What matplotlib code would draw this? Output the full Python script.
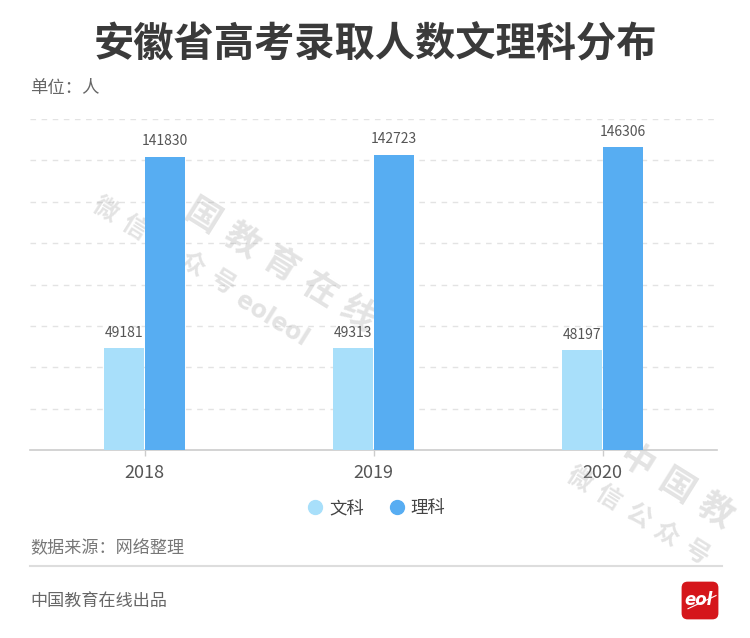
import matplotlib
matplotlib.use("Agg")
import matplotlib.pyplot as plt
from matplotlib.lines import Line2D
from matplotlib.patches import FancyBboxPatch
import numpy as np

plt.rcParams['font.family'] = ['Noto Sans CJK SC', 'DejaVu Sans']

years = ['2018', '2019', '2020']
series_names = ['文科', '理科']
wenke = [49181, 49313, 48197]
like = [141830, 142723, 146306]
colors = ['#A8DFFA', '#57ADF2']

W, H = 750, 638
fig = plt.figure(figsize=(W / 100, H / 100), dpi=100)
fig.patch.set_facecolor('white')

def fx(px):
    return px / W

def fy(py):
    return 1 - py / H

ax = fig.add_axes([fx(30), fy(450), fx(717) - fx(30), fy(119) - fy(450)])
x = np.arange(len(years))
bw = 0.173
off = 0.0885
b1 = ax.bar(x - off, wenke, bw, color=colors[0], zorder=3)
b2 = ax.bar(x + off, like, bw, color=colors[1], zorder=3)

for bars, vals in ((b1, wenke), (b2, like)):
    for r, v in zip(bars, vals):
        ax.annotate(f'{v}', (r.get_x() + r.get_width() / 2, v),
                    xytext=(0, 6), textcoords='offset points',
                    ha='center', va='bottom', fontsize=10, color='#555555')

ax.set_xlim(-0.5, 2.5)
ax.set_ylim(0, 160000)
ax.set_yticks(np.arange(20000, 160001, 20000))
ax.yaxis.grid(True, linestyle=(0, (4, 4)), color='#e3e3e3', linewidth=1, zorder=0)
ax.tick_params(axis='y', length=0, labelleft=False)
ax.set_xticks(x)
ax.set_xticklabels(years, fontsize=13, color='#555555')
ax.tick_params(axis='x', length=4, width=1, color='#cccccc', pad=6)
for s in ['top', 'right', 'left']:
    ax.spines[s].set_visible(False)
ax.spines['bottom'].set_color('#cccccc')
ax.spines['bottom'].set_linewidth(1.2)

handles = [Line2D([], [], marker='o', linestyle='none', markersize=10,
                  markerfacecolor=c, markeredgecolor=c) for c in colors]
fig.legend(handles, series_names, loc='center', bbox_to_anchor=(fx(376), fy(508)),
           ncol=2, frameon=False, fontsize=12.5, handletextpad=0.3,
           columnspacing=1.4, labelcolor='#444444', handlelength=1.0)

fig.text(0.5, fy(45), '安徽省高考录取人数文理科分布', ha='center', va='center',
         fontsize=29, fontweight='bold', color='#3a3a3a')
fig.text(fx(30), fy(88), '单位：人', ha='left', va='center', fontsize=12.5, color='#666666')
fig.text(fx(30), fy(548), '数据来源：网络整理', ha='left', va='center', fontsize=12.3, color='#777777')
fig.add_artist(Line2D([fx(30), fx(722)], [fy(566), fy(566)], color='#dddddd',
                      linewidth=1.5, transform=fig.transFigure))
fig.text(fx(30), fy(601), '中国教育在线出品', ha='left', va='center', fontsize=12.3, color='#666666')

# logo
lax = fig.add_axes([fx(680), fy(621), fx(720) - fx(680), fy(580) - fy(621)])
lax.set_xlim(0, 1)
lax.set_ylim(0, 1)
lax.axis('off')
lax.add_patch(FancyBboxPatch((0.04, 0.04), 0.92, 0.92, boxstyle='round,pad=0,rounding_size=0.15',
                             facecolor='#D5161B', edgecolor='none'))
lax.text(0.47, 0.52, 'eol', color='white', fontsize=12, fontweight='bold', style='italic',
         ha='center', va='center', family='DejaVu Sans')
lax.plot([0.2, 0.9], [0.3, 0.62], color='white', linewidth=0.8)

# watermarks (letter-spaced, rotated), drawn beneath the bars
wm_color = '#b0b0b0'
wm_alpha = 0.35
ang = 32.0
ca, sa = np.cos(np.radians(ang)), np.sin(np.radians(ang))
line1 = '中国教育在线'
line2 = '微信公众号'
for k, (dx, dy) in enumerate(((0, 0), (474, 270))):
    sx, sy = 163 + dx, 192 + dy
    for i, ch in enumerate(line1):
        cx, cy = sx + i * 46 * ca, sy + i * 46 * sa
        if cx + 20 > W or cy + 20 > H:
            continue
        ax.text(fx(cx), fy(cy), ch, rotation=-ang, ha='center', va='center',
                fontsize=25, fontweight='bold', color=wm_color, alpha=wm_alpha,
                transform=fig.transFigure, zorder=2)
    sx, sy = 105 + dx, 210 + dy
    for i, ch in enumerate(line2):
        cx, cy = sx + i * 34.5 * ca, sy + i * 34.5 * sa
        if cx + 15 > W or cy + 15 > H:
            continue
        ax.text(fx(cx), fy(cy), ch, rotation=-ang, ha='center', va='center',
                fontsize=18, fontweight='bold', color=wm_color, alpha=wm_alpha,
                transform=fig.transFigure, zorder=2)
    if k == 0:
        ax.text(fx(238), fy(298), 'eoleol', rotation=-ang, rotation_mode='anchor',
                ha='left', va='center', fontsize=17, fontweight='bold', color=wm_color,
                alpha=wm_alpha, transform=fig.transFigure, zorder=2, family='DejaVu Sans')

fig.savefig('out.png', dpi=100, facecolor='white')
